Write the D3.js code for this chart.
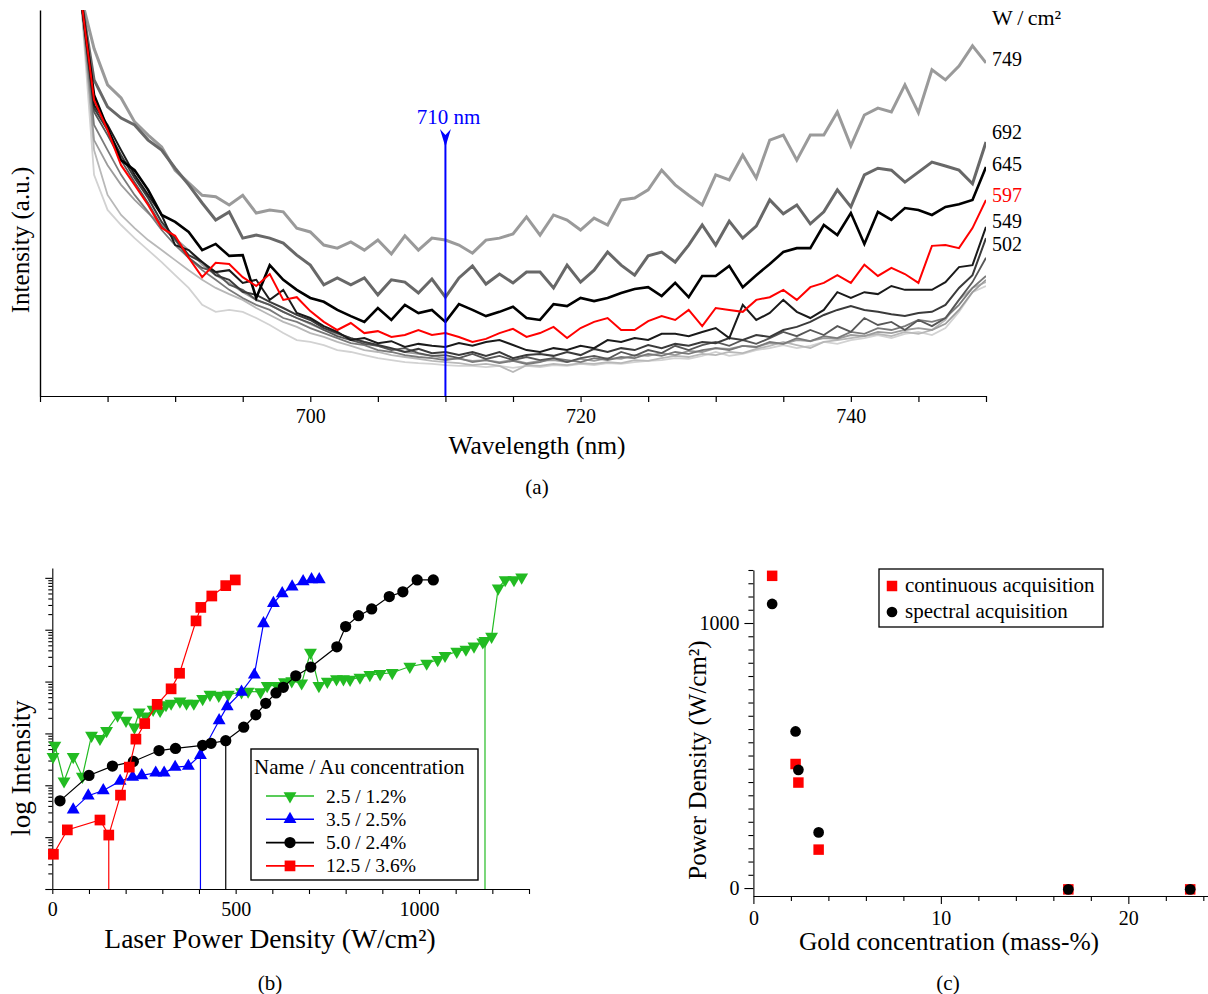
<!DOCTYPE html>
<html><head><meta charset="utf-8">
<script src="https://cdn.jsdelivr.net/npm/d3@7"></script>
<style>
body{margin:0;background:#fff}
svg{display:block}
text{font-family:"Liberation Serif","Times New Roman",serif;fill:#000}
</style>
</head><body>
<svg id="chart" width="1208" height="994"></svg>
<script>
// ---------------- Panel (a): spectra ----------------
const wavelengths = [683,684,685,686,687,688,689,690,691,692,693,694,695,696,697,698,699,700,701,702,703,704,705,706,707,708,709,710,711,712,713,714,715,716,717,718,719,720,721,722,723,724,725,726,727,728,729,730,731,732,733,734,735,736,737,738,739,740,741,742,743,744,745,746,747,748,749,750];
const spec749 = [104,90,80.6,77.2,71,67.6,64.5,58.5,55.2,52,51.6,49.5,52,47.4,48.2,47.7,43.5,42.5,39.1,38.3,39.9,37.8,40.4,36.8,41.5,37.8,40.9,40.4,39.1,37,40.4,40.9,42,46.4,41.7,46.9,45.6,43,46.1,44.3,50.8,51.3,53.4,58.5,54.7,52,49.5,57.3,56,62.4,56.5,66.3,67.6,61.1,67.6,67.6,73.6,64.8,72.8,74.6,73.6,80.6,73.4,84.5,81.9,85.5,90.7,86.3];
const spec692 = [104,81.9,74.9,72,70.2,66.3,63.7,59,54.7,50,45.6,47.7,40.9,41.7,40.9,39.6,36.5,33.9,28.8,30.6,28.8,30.6,26.2,30.1,29.5,26.7,30.3,25.6,30.6,33.7,29,31.6,29.3,32.1,32.1,28,33.9,29.5,32.6,37.3,33.9,31.3,36.3,37.3,34.7,39.1,44.3,39.1,45.3,40.9,44,50.8,47.2,49.5,44.6,47.7,53.4,49,57.3,59,58.5,55.4,58,60.6,59.6,58.5,55,65.8];
const spec645 = [104,78,69.4,61.1,58.5,53.4,46.9,45.1,42.5,37.8,39.4,36.3,36.5,25.4,33.9,30.1,27.5,25.4,24.4,22.3,20.7,19.2,22.8,19.7,23.6,21.5,22.3,19.2,23.8,22.3,20.7,21.8,23.1,20.2,19.7,23.8,23.3,25.4,24.6,25.4,26.7,27.7,28.2,25.9,29.3,25.6,31.1,31.1,33.7,28.2,31.3,34.2,37.3,38.3,38.3,44.3,41.7,47.4,39.4,47.7,45.6,48.7,48.2,46.9,49,49.7,50.8,59.3];
const spec597 = [104,76.7,68.9,59.8,54.7,49.5,43.5,41.5,35.8,30.8,34.5,34.2,30.8,28.5,31.6,24.9,25.6,22,19.2,17.1,18.9,16.3,16.8,15.3,15.8,17.1,15.8,16.3,15.3,14,14.8,16.3,17.4,15.3,16.3,17.9,15,17.6,19.2,20.2,17.1,17.1,19.4,20.7,19.7,22.3,18.1,22.8,22.3,21.8,24.9,25.6,27.5,24.9,28.2,29.3,31.3,29.3,34,31.1,33.2,31.6,29.3,38.9,39.1,38.3,43.5,50.8];
const spec549 = [104,75.4,70.2,63.7,57.3,52.1,46.9,39.1,37.8,34.7,32.1,32.6,29.3,30.1,24.9,27.5,21.5,20.2,18.1,16.6,14.5,15,13.7,14.2,12.7,13.5,13,12.7,13.7,13,14,14.5,13.2,11.9,11.4,12.4,11.9,13,12.4,14.5,14,15,14.5,16.1,16.1,15.5,16.6,17.6,15,23.6,19.7,21.5,24.9,21.8,20.2,22.3,26.9,25.4,26.9,26.4,28.5,27.5,27.5,27.5,29.5,33.4,33.9,43.8];
const spec502 = [104,74.6,68.9,62.4,56.5,51.3,45.1,40.9,36.5,34.7,31.3,30.1,27,26.2,24.4,22.8,21,19.7,17.6,16.3,15,14,13.2,12.4,11.4,12.2,11.1,11.4,10.6,11.4,10.4,11.4,9.8,10.6,10.9,10.4,11.4,10.6,12.2,11.4,12.4,11.9,13.2,12.4,13.5,13,14,13.7,15,14.5,15.8,15.3,17.1,17.9,19.2,21,22.3,23.3,22.3,21.8,21.2,20.7,21.5,21.8,23.6,28,31.3,40.9];
const specLowA = [104,73.6,67.6,61.1,55.4,50,44,40.4,35.8,33.2,32.1,28.8,27.5,24.9,23.6,21.8,20.2,18.9,17.1,15.5,14.5,13.5,13,11.9,12.4,11.1,10.4,10.6,9.8,10.9,9.6,10.4,9.3,10.1,9.3,9.8,8.8,9.8,10.4,9.6,11.4,10.4,11.9,11.1,13,11.9,13.2,14,13,14.5,13.5,15,16.6,15.5,17.1,15.8,18.1,16.6,20.2,18.4,19.2,17.1,19.7,18.1,20.2,24.9,29.5,35.8];
const specLowB = [104,70.2,63.7,57.3,52.1,47.7,43,39.1,35.8,32.6,30.1,27.5,25.4,23.6,22.3,20.2,19.2,17.6,16.3,15,13.7,13.2,11.9,11.4,10.6,10.1,9.8,9.3,9.8,8.8,9.3,8.5,9.1,8.3,8.8,9.8,9.3,8.8,9.8,9.3,10.1,9.8,10.9,10.4,11.4,10.9,11.9,12.4,11.9,13,12.7,14,13.5,15,14.2,15.5,15,16.6,16.1,17.6,17.1,18.1,19.7,19.2,20.2,23.6,28,31.1];
const specLowC = [104,66.3,59.8,54.7,50.8,47.4,44.3,40.9,37.8,34,31.3,29.3,26.9,24.9,23.6,21.8,20.2,18.7,17.1,16.1,15,14,13,12.2,11.4,10.9,10.4,9.8,9.6,9.1,9.3,8.8,9.3,8.5,9.1,9.3,8.8,9.6,9.1,9.8,9.6,10.6,10.4,11.1,10.6,11.7,11.4,12.4,12.2,13,12.7,13.7,13.5,14.5,14.2,15,14.8,15.8,15.5,16.6,16.3,17.1,17.6,17.1,18.7,22.3,26.9,30.1];
const specLowD = [104,63.7,52.1,46.9,43.5,40.4,37.8,35.2,32.6,30.1,28,26.4,24.9,22.8,21,19.2,17.9,16.3,15.3,14,13,11.9,11.4,10.6,10.1,9.6,9.1,8.8,8.5,8,8.3,7.8,6.2,8,7.8,8.3,8,8.5,8.3,8.8,8.5,9.3,9.1,9.8,10.4,10.1,10.9,10.6,11.4,11.1,12.2,13,14,13.2,12.4,14,14.5,15,15.5,16.1,15.5,16.6,16.1,17.1,19.7,24.9,28,29.5];
const specLowE = [104,57.3,48.2,44.3,40.9,37.8,34.7,31.3,28,23.6,21.8,22.3,21.8,20.2,18.4,16.3,14.5,14,13.2,11.9,11.4,10.6,9.8,9.3,8.8,8.5,8.3,8,7.8,7.8,7.5,7.8,7.3,7.8,7.5,8,7.8,8.3,8,8.5,8.3,8.8,9.1,9.3,9.8,9.6,10.4,11.4,10.4,10.9,11.9,12.4,13.2,12.4,13,14,13.5,14.5,15,15.8,15,16.1,16.6,15.8,17.6,21.8,26.9,28.5];
const spectraLabels = ["749","692","645","597","549","502"];
const spectraLabelLevels = [87.3,68.4,60.1,52.1,45.3,39.4];
const markerWavelength = 710;
const waveTicks = [680,685,690,695,700,705,710,715,720,725,730,735,740,745,750];
const waveTickLabels = [700,720,740];

// ---------------- Panel (b): log intensity vs power ----------------
const seriesNamesB = ["2.5 / 1.2%","3.5 / 2.5%","5.0 / 2.4%","12.5 / 3.6%"];
const greenX = [2,7,32,57,82,107,130,148,178,201,224,237,254,275,294,310,324,348,366,386,410,430,454,480,516,534,568,586,613,633,653,680,704,727,750,775,794,812,839,866,894,927,975,1021,1051,1071,1103,1128,1150,1174,1180,1198,1216,1235,1259,1280];
const greenLog = [2.55,2.77,2.08,2.55,2.17,2.96,2.90,3.05,3.35,3.25,3.12,3.41,3.33,3.46,3.44,3.55,3.58,3.62,3.58,3.58,3.67,3.75,3.73,3.75,3.80,3.81,3.80,3.92,3.92,3.99,4.01,3.97,4.56,3.92,4.00,4.05,4.05,4.04,4.08,4.13,4.15,4.17,4.29,4.35,4.42,4.50,4.58,4.62,4.68,4.76,4.79,4.87,5.80,5.96,5.96,6.01];
const blueX = [57,98,139,185,219,244,282,305,335,371,404,455,477,516,551,576,603,627,654,684,707,728];
const blueLog = [1.53,1.80,1.90,2.08,2.16,2.19,2.24,2.24,2.35,2.37,2.58,3.25,3.52,3.80,4.13,5.12,5.51,5.70,5.83,5.93,5.97,5.97];
const blackX = [21,100,164,221,291,336,410,433,473,522,555,582,610,630,664,705,776,800,835,871,919,956,995,1039];
const blackLog = [1.70,2.19,2.37,2.46,2.67,2.71,2.77,2.81,2.86,3.12,3.36,3.58,3.78,3.89,4.11,4.28,4.67,5.06,5.27,5.40,5.64,5.73,5.96,5.96];
const redX = [3,41,130,154,186,210,228,252,286,324,347,392,405,435,473,499];
const redLog = [0.67,1.14,1.33,1.04,1.81,2.35,2.89,3.19,3.56,3.86,4.16,5.17,5.43,5.65,5.85,5.96];
const thresholdX = [1180,404,473,154];
const thresholdLog = [4.79,2.58,2.86,1.04];
const powerTicks = [0,100,200,300,400,500,600,700,800,900,1000,1100,1200,1300];
const powerTickLabels = [0,500,1000];

// ---------------- Panel (c): threshold vs gold concentration ----------------
const goldConc = [1.0,2.25,2.4,3.48,16.8,23.3];
const continuousPower = [1178,468,398,145,-5,-5];
const spectralPower = [1072,591,446,210,-5,-5];
const legendC = ["continuous acquisition","spectral acquisition"];

// =====================================================================
const svg = d3.select("#chart");

// ---------- (a) ----------
const xA = d3.scaleLinear().domain([680,750]).range([40,986]);
const yA = d3.scaleLinear().domain([0,100]).range([396,10]);
const gA = svg.append("g");
svg.append("defs").append("clipPath").attr("id","clipA")
  .append("rect").attr("x",40).attr("y",10).attr("width",946).attr("height",386);

const spectra = [
  {v:specLowE,c:"#d2d2d2",w:1.8},
  {v:specLowD,c:"#b8b8b8",w:1.8},
  {v:specLowC,c:"#9c9c9c",w:1.8},
  {v:specLowB,c:"#7a7a7a",w:1.8},
  {v:specLowA,c:"#575757",w:1.8},
  {v:spec502,c:"#3a3a3a",w:2},
  {v:spec549,c:"#1a1a1a",w:2},
  {v:spec749,c:"#9a9a9a",w:3},
  {v:spec692,c:"#686868",w:3},
  {v:spec645,c:"#000000",w:2.6},
  {v:spec597,c:"#ff0000",w:2}
];
const lineA = d3.line().x((d,i)=>xA(wavelengths[i])).y(d=>yA(d));
const gLines = gA.append("g").attr("clip-path","url(#clipA)");
spectra.forEach(s=>{
  gLines.append("path").attr("d",lineA(s.v)).attr("fill","none")
    .attr("stroke",s.c).attr("stroke-width",s.w).attr("stroke-linejoin","miter");
});

// axes (a)
const axA = d3.axisBottom(xA).tickValues(waveTicks).tickSize(6).tickSizeOuter(0).tickPadding(7)
  .tickFormat(d=>waveTickLabels.includes(d)?d:"");
const gax = gA.append("g").attr("transform","translate(0,396)").call(axA);
gax.selectAll("text").attr("font-size",20).attr("font-family","Liberation Serif");
gax.selectAll("path,line").attr("stroke","#000").attr("stroke-width",1.2);
const gay = gA.append("g").attr("transform","translate(40,0)").call(d3.axisLeft(yA).tickValues([]).tickSizeOuter(0));
gay.selectAll("path").attr("stroke","#000").attr("stroke-width",1.4);

// 710 nm marker
const xm = xA(markerWavelength);
gA.append("line").attr("x1",xm).attr("x2",xm).attr("y1",135).attr("y2",yA(0))
  .attr("stroke","#0000ff").attr("stroke-width",2);
gA.append("path").attr("d",`M${xm-5.5},129 L${xm},147 L${xm+5.5},129 L${xm},135 Z`).attr("fill","#0000ff");
gA.append("text").attr("x",xm+3).attr("y",124).attr("text-anchor","middle")
  .attr("font-size",21).style("fill","#0000ff").text(markerWavelength+" nm");

// right labels
gA.append("text").attr("x",992).attr("y",25).attr("font-size",22).text("W\u2009/\u2009cm²");
spectraLabels.forEach((t,i)=>{
  gA.append("text").attr("x",992).attr("y",yA(spectraLabelLevels[i])+7)
    .attr("font-size",20).style("fill",t==="597"?"#ff0000":"#000").text(t);
});
gA.append("text").attr("x",537).attr("y",454).attr("text-anchor","middle").attr("font-size",25.5).text("Wavelength (nm)");
gA.append("text").attr("x",537).attr("y",494).attr("text-anchor","middle").attr("font-size",21).text("(a)");
gA.append("text").attr("transform","translate(29,240) rotate(-90)").attr("text-anchor","middle")
  .attr("font-size",25).text("Intensity (a.u.)");

// ---------- (b) ----------
const xB = d3.scaleLinear().domain([0,1300]).range([52.3,529]);
const yB = d3.scaleLog().domain([1,Math.pow(10,6.19)]).range([889,568]);
const gB = svg.append("g");
const logTicks = [];
for(let n=0;n<=6;n++){for(let k=1;k<=9;k++){const v=k*Math.pow(10,n); if(v<=Math.pow(10,6.19)) logTicks.push(v);}}
const axBy = gB.append("g").attr("transform","translate(52.3,0)")
  .call(d3.axisLeft(yB).tickValues(logTicks).tickFormat("").tickSize(4).tickSizeOuter(0));
axBy.selectAll(".tick line").attr("x2",d=>{const m=d/Math.pow(10,Math.round(Math.log10(d))); return Math.abs(m-1)<1e-9?-7:-4;});
axBy.selectAll("path,line").attr("stroke","#000").attr("stroke-width",1.1);
const axBx = gB.append("g").attr("transform","translate(0,889)")
  .call(d3.axisBottom(xB).tickValues(powerTicks).tickSize(5).tickSizeOuter(0).tickPadding(8)
  .tickFormat(d=>powerTickLabels.includes(d)?d:""));
axBx.selectAll("text").attr("font-size",20).attr("font-family","Liberation Serif");
axBx.selectAll("path,line").attr("stroke","#000").attr("stroke-width",1.1);

const seriesB = [
  {x:greenX,l:greenLog,c:"#22bb22",sym:d3.symbolTriangle,rot:180,size:72},
  {x:blueX,l:blueLog,c:"#0000ff",sym:d3.symbolTriangle,rot:0,size:72},
  {x:blackX,l:blackLog,c:"#000000",sym:d3.symbolCircle,rot:0,size:100},
  {x:redX,l:redLog,c:"#ff0000",sym:d3.symbolSquare,rot:0,size:115}
];
seriesB.forEach((s,si)=>{
  gB.append("line").attr("x1",xB(thresholdX[si])).attr("x2",xB(thresholdX[si]))
    .attr("y1",yB(Math.pow(10,thresholdLog[si]))).attr("y2",889)
    .attr("stroke",s.c).attr("stroke-width",1.2);
});
seriesB.forEach(s=>{
  const pts = s.x.map((x,i)=>[xB(x),yB(Math.pow(10,s.l[i]))]);
  gB.append("path").attr("d",d3.line()(pts)).attr("fill","none").attr("stroke",s.c).attr("stroke-width",1.2);
  const sym = d3.symbol().type(s.sym).size(s.size);
  gB.selectAll(null).data(pts).enter().append("path").attr("d",sym)
    .attr("transform",d=>`translate(${d[0]},${d[1]}) rotate(${s.rot})`).attr("fill",s.c);
});
// legend (b)
gB.append("rect").attr("x",251).attr("y",749).attr("width",227).attr("height",131)
  .attr("fill","#fff").attr("stroke","#000").attr("stroke-width",1.4);
gB.append("text").attr("x",254).attr("y",774).attr("font-size",21).text("Name / Au concentration");
seriesB.forEach((s,i)=>{
  const cy = 796 + i*23.3;
  gB.append("line").attr("x1",266).attr("x2",314).attr("y1",cy).attr("y2",cy).attr("stroke",s.c).attr("stroke-width",1.6);
  gB.append("path").attr("d",d3.symbol().type(s.sym).size(s.size)).attr("transform",`translate(290,${cy}) rotate(${s.rot})`).attr("fill",s.c);
  gB.append("text").attr("x",326).attr("y",cy+6.5).attr("font-size",19.5).text(seriesNamesB[i]);
});
gB.append("text").attr("x",270).attr("y",948).attr("text-anchor","middle").attr("font-size",27.5).text("Laser Power Density (W/cm²)");
gB.append("text").attr("x",270).attr("y",990).attr("text-anchor","middle").attr("font-size",21).text("(b)");
gB.append("text").attr("transform","translate(30,768) rotate(-90)").attr("text-anchor","middle")
  .attr("font-size",27).text("log Intensity");

// ---------- (c) ----------
const xC = d3.scaleLinear().domain([0,24.25]).range([753.4,1208]);
const yC = d3.scaleLinear().domain([-30,1200]).range([896,570]);
const gC = svg.append("g");
const axCy = gC.append("g").attr("transform","translate(753.4,0)")
  .call(d3.axisLeft(yC).tickValues(d3.range(0,1201,50)).tickSize(5).tickSizeOuter(0).tickPadding(6)
  .tickFormat(d=>(d===0||d===1000)?d:""));
axCy.selectAll(".tick line").attr("x2",d=>(d%1000===0)?-9:-5);
axCy.selectAll("text").attr("font-size",20).attr("font-family","Liberation Serif").attr("x",-14);
axCy.selectAll("path,line").attr("stroke","#000").attr("stroke-width",1.1);
const axCx = gC.append("g").attr("transform","translate(0,896)")
  .call(d3.axisBottom(xC).tickValues(d3.range(0,25,2)).tickSize(5).tickSizeOuter(0).tickPadding(10)
  .tickFormat(d=>(d%10===0)?d:""));
axCx.selectAll(".tick line").attr("y2",d=>(d%10===0)?8:5);
axCx.selectAll("text").attr("font-size",20).attr("font-family","Liberation Serif");
axCx.selectAll("path,line").attr("stroke","#000").attr("stroke-width",1.1);

const sq = d3.symbol().type(d3.symbolSquare).size(110);
const ci = d3.symbol().type(d3.symbolCircle).size(90);
gC.selectAll(null).data(goldConc).enter().append("path").attr("d",sq)
  .attr("transform",(d,i)=>`translate(${xC(d)},${yC(continuousPower[i])})`).attr("fill","#ff0000");
gC.selectAll(null).data(goldConc).enter().append("path").attr("d",ci)
  .attr("transform",(d,i)=>`translate(${xC(d)},${yC(spectralPower[i])})`).attr("fill","#000");
// legend (c)
gC.append("rect").attr("x",879).attr("y",569).attr("width",224).attr("height",58)
  .attr("fill","#fff").attr("stroke","#000").attr("stroke-width",1.3);
gC.append("path").attr("d",sq).attr("transform","translate(892,586)").attr("fill","#ff0000");
gC.append("path").attr("d",ci).attr("transform","translate(892,612)").attr("fill","#000");
gC.append("text").attr("x",905).attr("y",592).attr("font-size",21).text(legendC[0]);
gC.append("text").attr("x",905).attr("y",618).attr("font-size",21).text(legendC[1]);
gC.append("text").attr("x",949).attr("y",950).attr("text-anchor","middle").attr("font-size",25.5).text("Gold concentration (mass-%)");
gC.append("text").attr("x",948).attr("y",990).attr("text-anchor","middle").attr("font-size",21).text("(c)");
gC.append("text").attr("transform","translate(706,760) rotate(-90)").attr("text-anchor","middle")
  .attr("font-size",25).text("Power Density (W/cm²)");
</script>
</body></html>
